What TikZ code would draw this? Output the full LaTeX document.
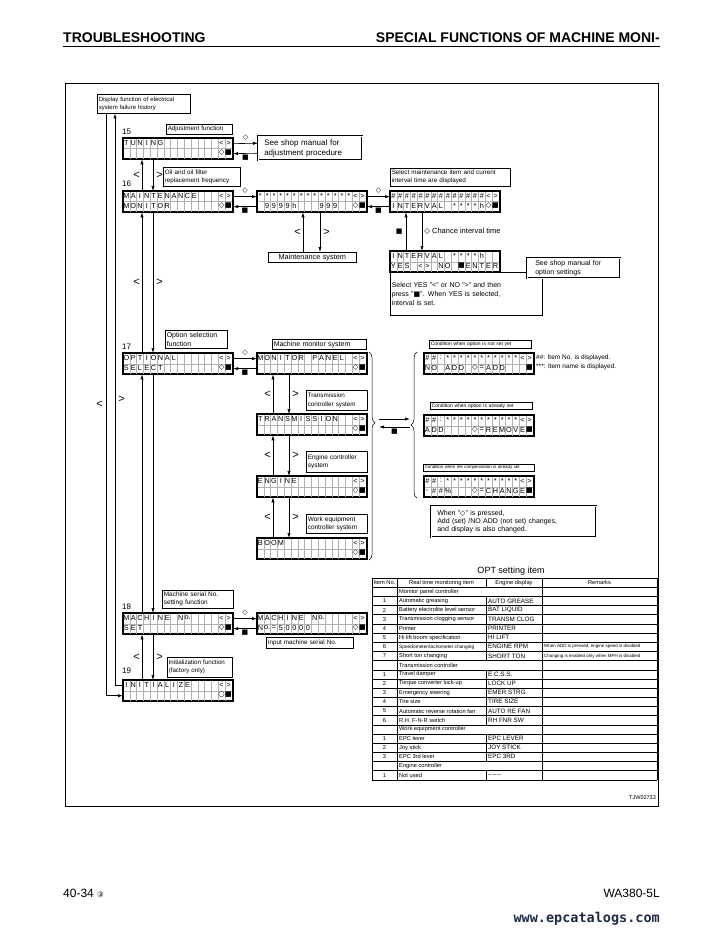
\documentclass[tikz,border=0pt]{standalone}
\usepackage{fontspec}
\setmainfont{Liberation Sans}
\newfontfamily\symf{DejaVu Sans}
\newfontfamily\urlf{DejaVu Sans Mono}
\usetikzlibrary{arrows.meta,decorations.pathreplacing,calc}
\definecolor{urlblue}{RGB}{30,42,72}

\newcommand{\fsz}[2]{\fontsize{#1}{#2}\selectfont}
\newcommand{\dia}{{\symf ◇}}
\newcommand{\sqr}{{\symf ■}}
\newcommand{\cir}{{\symf ○}}
\newcommand{\st}{\raisebox{-1.5pt}{*}}

\tikzset{
  lcd/.style={draw, line width=1.3pt, minimum width=108.8pt, minimum height=20pt, inner sep=0pt, anchor=north west},
  lcdline/.style={gray!60, line width=0.3pt},
  lcdch/.style={inner sep=0pt, font=\fsz{7.3}{7.3}},
  lbox/.code 2 args={\pgfmathsetmacro\boxtw{#1-3}%
    \tikzset{draw, line width=0.5pt, anchor=north west, inner xsep=1.5pt, inner ysep=0pt,
      minimum width=#1pt, minimum height=#2pt, text width=\boxtw pt, align=left, fill=white}},
  dbox/.code 2 args={\pgfmathsetmacro\boxtw{#1-12}%
    \tikzset{draw, double, double distance=0.9pt, line width=0.5pt, anchor=north west,
      inner xsep=6pt, inner ysep=0pt, minimum width=#1pt, minimum height=#2pt,
      text width=\boxtw pt, align=left, fill=white}},
  arr/.style={-{Latex[length=5pt,width=3.2pt]}, line width=0.6pt},
  keyglyph/.style={inner sep=0pt, font=\fsz{11}{11}},
  num/.style={inner sep=0pt, anchor=west, font=\fsz{8}{8}},
  sym/.style={inner sep=0.3pt, font=\fsz{7}{7}},
  brc/.style={decorate, line width=0.5pt},
  tline/.style={line width=0.4pt},
  tcell/.style={inner sep=0pt, font=\fsz{5.7}{5.7}},
  tdisp/.style={inner sep=0pt, anchor=west, font=\fsz{6.3}{6.3}},
  trem/.style={inner sep=0pt, anchor=west, font=\fsz{4.5}{4.5}},
}

% LCD panel: cell grid, then characters placed cell by cell
\newcommand{\lcdgrid}[1]{%
  \foreach \col in {1,...,15}
    \draw[lcdline] ([xshift=\col*6.8pt]#1.north west) -- ([xshift=\col*6.8pt]#1.south west);
  \draw[lcdline] (#1.west) -- (#1.east);
  \draw[line width=1.3pt] (#1.north west) rectangle (#1.south east);
}
\newcommand{\lcdput}[4]{%
  \foreach \lch [count=\col from #3] in {#4}
    \node[lcdch] (#1-r#2-c\col) at ([xshift={(\col-0.5)*6.8pt},yshift={-(#2-0.5)*10pt}]#1.north west) {\lch};
}
% one row of the OPT table
\newcommand{\optrow}[4]{%
  \node[tcell] (itn#1) at (384.5,{578+(#1+0.5)*9.17}) {#2};
  \node[tcell, anchor=west] (iti#1) at (399,{578+(#1+0.5)*9.17}) {#3};
  \node[tdisp] (itd#1) at (488,{578+(#1+0.5)*9.17}) {#4};
}

\begin{document}
\begin{tikzpicture}[x=1pt,y=-1pt]
\fill[white] (0,0) rectangle (723,933);
\useasboundingbox (0,0) rectangle (723,933);

% page header
\node[anchor=base west, inner sep=0pt, font=\bfseries\fsz{14}{14}] (hdl) at (63,43) {TROUBLESHOOTING};
\node[anchor=base east, inner sep=0pt, font=\bfseries\fsz{14}{14}] (hdr) at (660,43) {SPECIAL FUNCTIONS OF MACHINE MONI-};
\draw[line width=1.1pt] (63,46.5) -- (660,46.5);

% frame
\draw[line width=0.8pt] (65,83) rectangle (658,806);

% left column displays
\node[lcd] (tun) at (123,138) {};
\node[lcd] (mnt) at (123,191) {};
\node[lcd] (opt) at (123,353) {};
\node[lcd] (msn) at (123,613) {};
\node[lcd] (ini) at (123,680) {};
% middle column displays
\node[lcd] (mcnt) at (257,191) {};
\node[lcd] (mpan) at (257,353) {};
\node[lcd] (trns) at (257,414) {};
\node[lcd] (eng) at (257,476) {};
\node[lcd] (boom) at (257,538) {};
\node[lcd] (msn2) at (257,613) {};
% interval displays
\node[lcd] (intv) at (390,191) {};
\node[lcd] (iyes) at (390,251) {};
% option condition displays
\node[lcd] (ona) at (424,353) {};
\node[lcd] (oad) at (424,415) {};
\node[lcd] (otc) at (424,476) {};

\foreach \d in {tun,mnt,opt,msn,ini,mcnt,mpan,trns,eng,boom,msn2,intv,iyes,ona,oad,otc} {
  \lcdgrid{\d}
}

% display texts
\foreach \d in {tun,mnt,opt,msn,mcnt,mpan,trns,eng,boom,msn2,ini} {
  \lcdput{\d}{1}{15}{<,>}
}
\foreach \d in {tun,mnt,opt,msn,mcnt,mpan,trns,eng,boom,msn2,intv} {
  \lcdput{\d}{2}{15}{\dia,\sqr}
}
\lcdput{tun}{1}{1}{T,U,N,I,N,G}
\lcdput{mnt}{1}{1}{M,A,I,N,T,E,N,A,N,C,E}
\lcdput{mnt}{2}{1}{M,O,N,I,T,O,R}
\lcdput{opt}{1}{1}{O,P,T,I,O,N,A,L}
\lcdput{opt}{2}{1}{S,E,L,E,C,T}
\lcdput{msn}{1}{1}{M,A,C,H,I,N,E}
\lcdput{msn}{1}{9}{N,o.}
\lcdput{msn}{2}{1}{S,E,T}
\lcdput{ini}{1}{1}{I,N,I,T,I,A,L,I,Z,E}
\lcdput{ini}{2}{15}{\cir,\sqr}
\lcdput{mcnt}{1}{1}{\st,\st,\st,\st,\st,\st,\st,\st,\st,\st,\st,\st,\st,\st}
\lcdput{mcnt}{2}{2}{9,9,9,9,h}
\lcdput{mcnt}{2}{10}{9,9,9}
\lcdput{mpan}{1}{1}{M,O,N,I,T,O,R}
\lcdput{mpan}{1}{9}{P,A,N,E,L}
\lcdput{trns}{1}{1}{T,R,A,N,S,M,I,S,S,I,O,N}
\lcdput{eng}{1}{1}{E,N,G,I,N,E}
\lcdput{boom}{1}{1}{B,O,O,M}
\lcdput{msn2}{1}{1}{M,A,C,H,I,N,E}
\lcdput{msn2}{1}{9}{N,o.}
\lcdput{msn2}{2}{1}{N,o.,=,5,0,0,0,0}
\lcdput{intv}{1}{1}{\#,\#,\#,\#,\#,\#,\#,\#,\#,\#,\#,\#,\#,\#,<,>}
\lcdput{intv}{2}{1}{I,N,T,E,R,V,A,L}
\lcdput{intv}{2}{10}{\st,\st,\st,\st,h}
\lcdput{iyes}{1}{1}{I,N,T,E,R,V,A,L}
\lcdput{iyes}{1}{10}{\st,\st,\st,\st,h}
\lcdput{iyes}{2}{1}{Y,E,S}
\lcdput{iyes}{2}{5}{<,>}
\lcdput{iyes}{2}{8}{N,O}
\lcdput{iyes}{2}{11}{\sqr,E,N,T,E,R}
\foreach \d in {ona,oad,otc} {
  \lcdput{\d}{1}{1}{\#,\#,:,\st,\st,\st,\st,\st,\st,\st,\st,\st,\st,\st,<,>}
}
\lcdput{ona}{2}{1}{N,O}
\lcdput{ona}{2}{4}{A,D,D}
\lcdput{ona}{2}{8}{\dia,=,A,D,D}
\lcdput{ona}{2}{16}{\sqr}
\lcdput{oad}{2}{1}{A,D,D}
\lcdput{oad}{2}{8}{\dia,=,R,E,M,O,V,E,\sqr}
\lcdput{otc}{2}{1}{-,\#,\#,\%}
\lcdput{otc}{2}{8}{\dia,=,C,H,A,N,G,E,\sqr}

% function numbers
\node[num] (n15) at (122,132) {15};
\node[num] (n16) at (122,184) {16};
\node[num] (n17) at (122,347) {17};
\node[num] (n18) at (122,607) {18};
\node[num] (n19) at (122,671) {19};

% label boxes
\node[lbox={93}{19}, font=\fsz{6}{8}] (disp) at (97,94) {Display function of electrical\\system failure history};
\node[lbox={66}{10}, font=\fsz{6.3}{7}] (adjf) at (166,124) {Adjustment function};
\node[dbox={104}{24}, font=\fsz{8}{9.5}] (shopadj) at (258,136) {See shop manual for\\adjustment procedure};
\node[lbox={77}{19}, font=\fsz{6.3}{8}] (oilf) at (163,167) {Oil and oil filter\\replacement frequency};
\node[lbox={120}{18}, font=\fsz{6.3}{8}] (selm) at (390,168) {Select maintenance item and current\\interval time are displayed};
\node[lbox={88}{10}, font=\fsz{7.3}{8}, align=center] (mtsys) at (268,252) {Maintenance system};
\node[lbox={152}{43}, font=\fsz{7}{9}] (selyes) at (390,272) {Select YES "<" or NO ">" and then\\press "\sqr". When YES is selected,\\interval is set.};
\node[dbox={89}{20}, font=\fsz{7}{8.5}, inner xsep=8pt] (shopopt) at (527,258) {See shop manual for\\option settings};
\node[lbox={62}{18}, font=\fsz{7}{8.5}] (optsel) at (165,330) {Option selection\\function};
\node[lbox={94}{10}, font=\fsz{7}{8}] (mmsys) at (272,339) {Machine monitor system};
\node[lbox={61}{20}, font=\fsz{6.3}{8.5}] (trsys) at (306,390) {Transmission\\controller system};
\node[lbox={61}{21}, font=\fsz{6.5}{8.5}] (ensys) at (306,451) {Engine controller\\system};
\node[lbox={61}{19}, font=\fsz{6.5}{8.5}] (wesys) at (306,514) {Work equipment\\controller system};
\node[lbox={102}{8}, font=\fsz{5}{6}] (cond1) at (429,340) {Condition when option is not set yet};
\node[lbox={102}{7}, font=\fsz{5}{6}] (cond2) at (430,402) {Condition when option is already set};
\node[lbox={111}{7}, font=\fsz{4.4}{5}] (cond3) at (423,464) {Condition when tire compensation is already set};
\node[dbox={165}{31}, font=\fsz{7}{8.3}] (whenbox) at (431,506) {When "\dia" is pressed,\\Add (set) /NO ADD (not set) changes,\\and display is also changed.};
\node[lbox={71}{18}, font=\fsz{6.5}{8}] (mssf) at (162,590) {Machine serial No.\\setting function};
\node[lbox={87}{11}, font=\fsz{6.3}{7}] (inms) at (266,637) {Input machine serial No.};
\node[lbox={65}{20}, font=\fsz{6.2}{8}] (inif) at (167,657) {Initialization function\\(factory only)};

\node[anchor=west, inner sep=0pt, font=\fsz{6.5}{7}] (keyn) at (536,358) {\#\#: Item No. is displayed.};
\node[anchor=west, inner sep=0pt, font=\fsz{6.5}{7}] (keyi) at (536,367) {***: Item name is displayed.};

% horizontal links: diamond goes on, square comes back
\foreach \a/\b in {tun/shopadj, mnt/mcnt, mcnt/intv, opt/mpan, msn/msn2} {
  \draw[arr] ([yshift=5pt]\a.east) -- ([yshift=5pt]\b.west) node[midway, above=2.5pt, sym] {\dia};
  \draw[arr] ([yshift=-5pt]\b.west) -- ([yshift=-5pt]\a.east) node[midway, below=1pt, sym] {\sqr};
}

% left column links
\draw[arr] ([xshift=19pt]mnt.north west) -- ([xshift=19pt]tun.south west) node[midway, left=2pt, keyglyph] {<};
\draw[arr] ([xshift=30pt]tun.south west) -- ([xshift=30pt]mnt.north west) node[midway, right=3pt, keyglyph] {>};
\draw[arr] ([xshift=19pt]opt.north west) -- ([xshift=19pt]mnt.south west) node[midway, left=2pt, keyglyph] {<};
\draw[arr] ([xshift=30pt]mnt.south west) -- ([xshift=30pt]opt.north west) node[midway, right=3pt, keyglyph] {>};
\draw[arr] ([xshift=19pt]msn.north west) -- ([xshift=19pt]opt.south west);
\draw[arr] ([xshift=30pt]opt.south west) -- ([xshift=30pt]msn.north west);
\draw[arr] ([xshift=19pt]ini.north west) -- ([xshift=19pt]msn.south west) node[midway, left=2pt, keyglyph] {<};
\draw[arr] ([xshift=30pt]msn.south west) -- ([xshift=30pt]ini.north west) node[midway, right=3pt, keyglyph] {>};

% outer loop back to failure history
\draw[arr] ([xshift=9pt]disp.south west) |- ([yshift=-5pt]ini.west) node[pos=0.25, left=3pt, keyglyph] {<};
\draw[arr] ([yshift=5pt]ini.west) -| ([xshift=18pt]disp.south west) node[pos=0.75, right=3pt, keyglyph] {>};

% middle column links
\foreach \a/\b in {mpan/trns, trns/eng, eng/boom} {
  \draw[arr] ([xshift=16pt]\b.north west) -- ([xshift=16pt]\a.south west) node[midway, left=2pt, keyglyph] {<};
  \draw[arr] ([xshift=32pt]\a.south west) -- ([xshift=32pt]\b.north west) node[midway, right=3pt, keyglyph] {>};
}
\draw[arr] ([xshift=35pt]mtsys.north west) -- ([xshift=46pt]mcnt.south west) node[midway, left=2pt, keyglyph] {<};
\draw[arr] ([xshift=63pt]mcnt.south west) -- ([xshift=52pt]mtsys.north west) node[midway, right=3pt, keyglyph] {>};

% interval setting links
\draw[arr] ([xshift=16pt]iyes.north west) -- ([xshift=16pt]intv.south west) node[midway, left=3pt, sym] {\sqr};
\draw[arr] ([xshift=32pt]intv.south west) -- ([xshift=32pt]iyes.north west) node[midway, right=2pt, inner sep=0pt, font=\fsz{7.5}{7.5}] {\dia\ Chance interval time};

% braces round the controller list and the option states
\draw[brc, decoration={brace, amplitude=6pt, aspect=0.34}] (369,352) -- (369,560);
\draw[brc, decoration={brace, amplitude=6pt, aspect=0.5}] (417,498) -- (417,352);
\coordinate (bl1) at (379,419);
\coordinate (br1) at (410,419);
\coordinate (bl2) at (379,427);
\coordinate (br2) at (410,427);
\draw[arr] (bl1) -- (br1);
\draw[arr] (br2) -- (bl2) node[midway, below=1pt, sym] {\sqr};

% OPT setting item table
\node[inner sep=0pt, font=\fsz{9}{9}] (opttitle) at (511,571) {OPT setting item};
\foreach \r in {0,...,22}
  \draw[tline] (372,{578+\r*9.17}) -- (657,{578+\r*9.17});
\foreach \x in {372,397,542,657}
  \draw[tline] (\x,578) -- (\x,779.7);
\foreach \r in {0,2,3,4,5,6,7,8,10,11,12,13,14,15,17,18,19,21}
  \draw[tline] (486,{578+\r*9.17}) -- (486,{578+(\r+1)*9.17});

\node[tcell] (thn) at (384.5,582.6) {Item No.};
\node[tcell] (thi) at (441.5,582.6) {Real time monitoring item};
\node[tcell] (thd) at (514,582.6) {Engine display};
\node[tcell] (thr) at (599.5,582.6) {Remarks};
\foreach \r/\secname in {1/Monitor panel controller,9/Transmission controller,16/Work equipment controller,20/Engine controller}
  \node[tcell, anchor=west] (sec\r) at (399,{578+(\r+0.5)*9.17}) {\secname};

\optrow{2}{1}{Automatic greasing}{AUTO GREASE}
\optrow{3}{2}{Battery electrolite level sensor}{BAT LIQUID}
\optrow{4}{3}{Transmission clogging sensor}{TRANSM CLOG}
\optrow{5}{4}{Printer}{PRINTER}
\optrow{6}{5}{Hi lift boom specification}{HI LIFT}
\optrow{7}{6}{\fsz{4.8}{4.8}Speedometer/tachometer changing}{ENGINE RPM}
\optrow{8}{7}{Short ton changing}{SHORT TON}
\optrow{10}{1}{Travel damper}{E.C.S.S.}
\optrow{11}{2}{Torque converter lock-up}{LOCK UP}
\optrow{12}{3}{Emergency steering}{EMER STRG}
\optrow{13}{4}{Tire size}{TIRE SIZE}
\optrow{14}{5}{Automatic reverse rotation fan}{AUTO RE FAN}
\optrow{15}{6}{R.H. F-N-R switch}{RH FNR SW}
\optrow{17}{1}{EPC lever}{EPC LEVER}
\optrow{18}{2}{Joy stick}{JOY STICK}
\optrow{19}{3}{EPC 3rd lever}{EPC 3RD}
\optrow{21}{1}{Not used}{--\,--\,--}
\node[trem] (rem7) at (544,{578+7.5*9.17}) {When ADD is pressed, engine speed is disabled};
\node[trem] (rem8) at (544,{578+8.5*9.17}) {Changing is enabled only when MPH is disabled};

\node[anchor=east, inner sep=0pt, font=\fsz{5.5}{6}] (tjw) at (656,798) {TJW02733};

% page footer
\node[anchor=base west, inner sep=0pt, font=\fsz{12}{12}] (pgno) at (63,897) {40-34 {\symf\fsz{7.5}{7.5}③}};
\node[anchor=base east, inner sep=0pt, font=\fsz{12}{12}] (model) at (660,897) {WA380-5L};
\node[anchor=base east, inner sep=0pt, font=\urlf\bfseries\fsz{13.5}{13.5}, text=urlblue] (url) at (660,922) {www.epcatalogs.com};
\end{tikzpicture}
\end{document}
